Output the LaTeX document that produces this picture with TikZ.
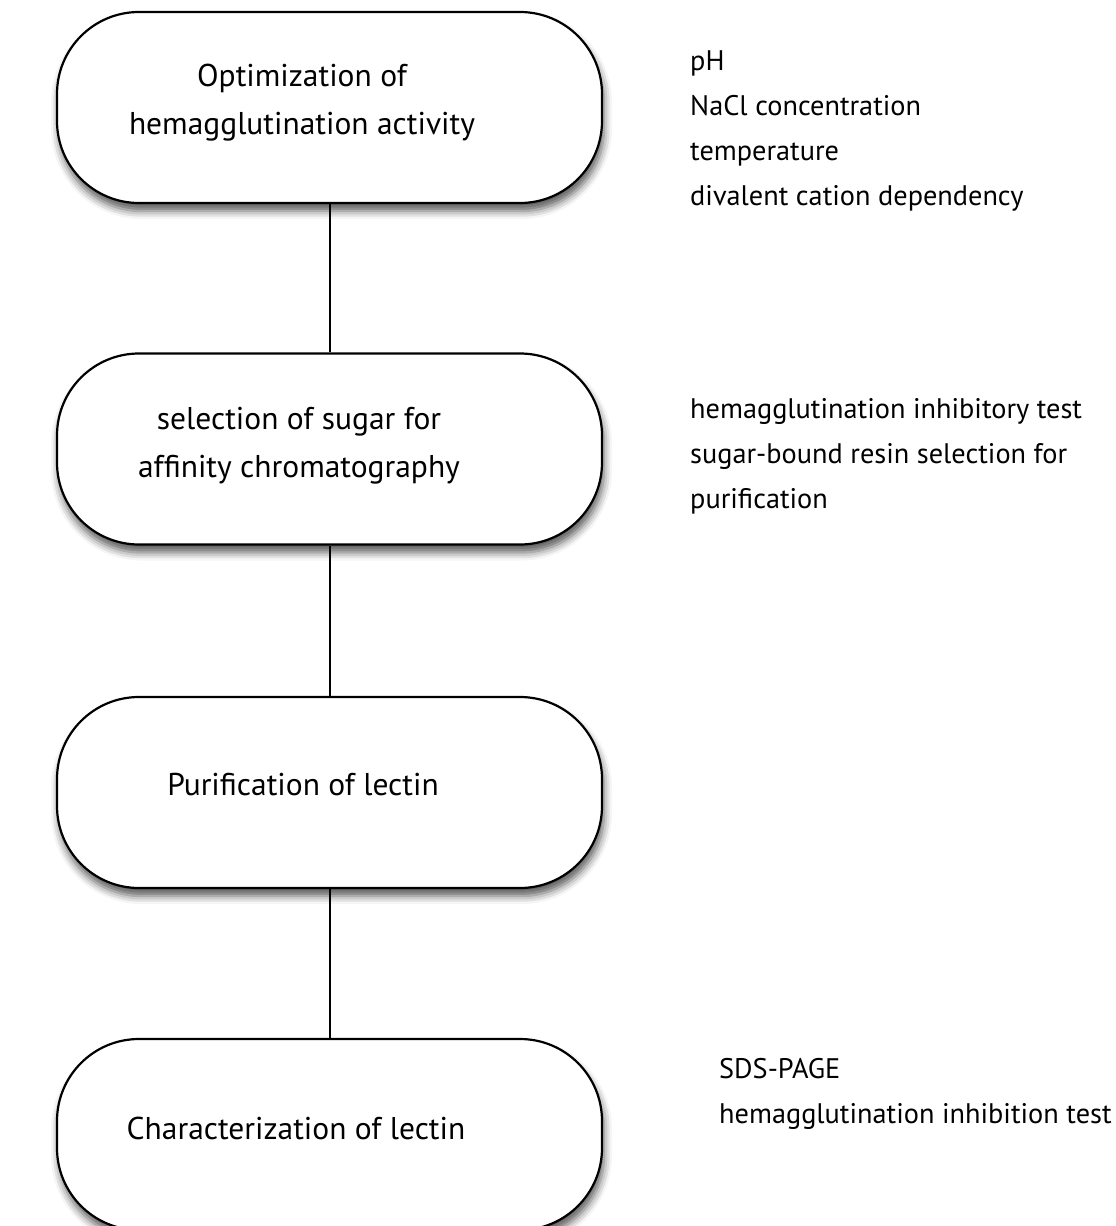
\documentclass[tikz,border=0pt]{standalone}
\usepackage{fontspec}
\setmainfont{PT Sans}
\usetikzlibrary{positioning, shadows.blur}

\tikzset{
  stepbox/.style={draw=black, line width=2.2pt, fill=white, rounded corners=82pt,
    minimum width=545pt, minimum height=191pt,
    blur shadow={shadow xshift=2pt, shadow yshift=-8pt, shadow blur radius=8pt, shadow opacity=65}},
  steptext/.style={font=\fontsize{31.5}{48}\selectfont, align=center},
  notetext/.style={font=\fontsize{28.3}{45}\selectfont, align=left, anchor=north west, inner sep=0pt},
  link/.style={draw=black, line width=2pt}
}

\begin{document}
\begin{tikzpicture}[x=1pt, y=-1pt]
  \useasboundingbox (0,0) rectangle (1116,1226);

  % Steps
  \node[stepbox] (optim) at (329.5, 107.5) {};
  \node[steptext] (optimtxt) at (302, 103) {Optimization of\\hemagglutination activity};

  \node[stepbox] (sugar) at (329.5, 449) {};
  \node[steptext] (sugartxt) at (299, 446) {selection of sugar for\\affinity chromatography};

  \node[stepbox] (purif) at (329.5, 792.5) {};
  \node[steptext] (puriftxt) at (303, 785) {Purification of lectin};

  \node[stepbox] (charac) at (329.5, 1134.5) {};
  \node[steptext] (charactxt) at (296, 1128) {Characterization of lectin};

  % Links
  \draw[link] (optim.south) -- (sugar.north);
  \draw[link] (sugar.south) -- (purif.north);
  \draw[link] (purif.south) -- (charac.north);

  % Notes
  \node[notetext] (optimnote) at (690, 50) {pH\\NaCl concentration\\temperature\\divalent cation dependency};
  \node[notetext] (sugarnote) at (690, 398) {hemagglutination inhibitory test\\sugar-bound resin selection for\\purification};
  \node[notetext] (characnote) at (719, 1058) {SDS-PAGE\\hemagglutination inhibition test};
\end{tikzpicture}
\end{document}
